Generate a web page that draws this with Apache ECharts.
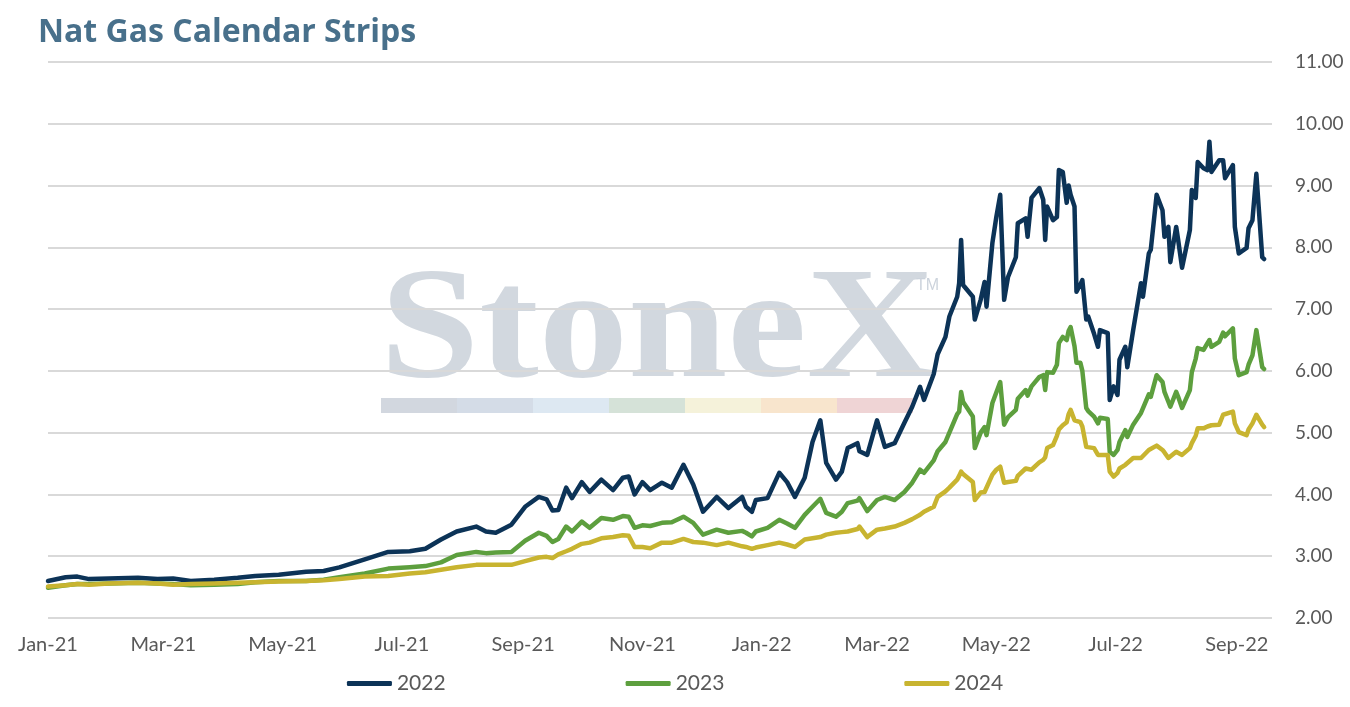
<!DOCTYPE html>
<html>
<head>
<meta charset="utf-8">
<script src="https://cdn.jsdelivr.net/npm/echarts@6/dist/echarts.min.js"></script>
<style>
  html, body { margin: 0; padding: 0; background: #fff; }
  #main { width: 1350px; height: 707px; }
</style>
</head>
<body>
<div id="main"></div>
<script>
// sampled settle dates
var dates = [
  '2021-01-01','2021-01-10','2021-01-16','2021-01-22','2021-02-01','2021-02-16','2021-02-26','2021-03-06','2021-03-15','2021-03-27',
  '2021-04-08','2021-04-17','2021-04-29','2021-05-13','2021-05-22','2021-05-30','2021-06-12','2021-06-24','2021-07-05','2021-07-13',
  '2021-07-21','2021-07-29','2021-08-08','2021-08-13','2021-08-18','2021-08-26','2021-09-02','2021-09-09','2021-09-13','2021-09-16',
  '2021-09-19','2021-09-23','2021-09-26','2021-10-01','2021-10-05','2021-10-11','2021-10-17','2021-10-22','2021-10-25','2021-10-28',
  '2021-11-01','2021-11-05','2021-11-11','2021-11-16','2021-11-22','2021-11-27','2021-12-02','2021-12-09','2021-12-15','2021-12-22',
  '2021-12-24','2021-12-27','2021-12-29','2022-01-04','2022-01-10','2022-01-14','2022-01-18','2022-01-23','2022-01-27','2022-01-31',
  '2022-02-03','2022-02-08','2022-02-11','2022-02-14','2022-02-19','2022-02-20','2022-02-24','2022-03-01','2022-03-05','2022-03-10',
  '2022-03-15','2022-03-19','2022-03-23','2022-03-25','2022-03-30','2022-04-01','2022-04-05','2022-04-07','2022-04-11','2022-04-12',
  '2022-04-13','2022-04-14','2022-04-19','2022-04-20','2022-04-23','2022-04-25','2022-04-26','2022-04-29','2022-05-01','2022-05-03',
  '2022-05-05','2022-05-07','2022-05-11','2022-05-12','2022-05-16','2022-05-17','2022-05-19','2022-05-23','2022-05-25','2022-05-26',
  '2022-05-27','2022-05-30','2022-06-01','2022-06-02','2022-06-04','2022-06-06','2022-06-07','2022-06-08','2022-06-10','2022-06-11',
  '2022-06-13','2022-06-14','2022-06-16','2022-06-17','2022-06-20','2022-06-22','2022-06-23','2022-06-27','2022-06-28','2022-06-30',
  '2022-07-02','2022-07-03','2022-07-06','2022-07-07','2022-07-10','2022-07-14','2022-07-15','2022-07-18','2022-07-19','2022-07-22',
  '2022-07-25','2022-07-26','2022-07-28','2022-07-29','2022-08-01','2022-08-02','2022-08-04','2022-08-08','2022-08-09','2022-08-11',
  '2022-08-12','2022-08-15','2022-08-17','2022-08-18','2022-08-19','2022-08-23','2022-08-25','2022-08-26','2022-08-30','2022-08-31',
  '2022-09-02','2022-09-06','2022-09-07','2022-09-09','2022-09-11','2022-09-14','2022-09-15'
];

var strip2022 = [
  2.60,2.66,2.67,2.63,2.64,2.65,2.63,2.64,2.60,2.62,
  2.65,2.68,2.70,2.75,2.76,2.82,2.95,3.07,3.08,3.12,
  3.27,3.40,3.48,3.40,3.38,3.51,3.80,3.96,3.92,3.74,
  3.75,4.11,3.94,4.20,4.04,4.24,4.07,4.27,4.29,4.00,
  4.20,4.07,4.19,4.11,4.48,4.16,3.72,3.96,3.78,3.96,
  3.80,3.72,3.91,3.94,4.35,4.20,3.96,4.27,4.85,5.20,
  4.51,4.24,4.37,4.75,4.83,4.70,4.64,5.20,4.77,4.83,
  5.16,5.42,5.74,5.53,5.95,6.27,6.55,6.88,7.20,7.42,
  8.12,7.39,7.20,6.83,7.15,7.44,7.04,8.07,8.49,8.85,
  7.15,7.52,7.84,8.39,8.47,8.17,8.80,8.96,8.77,8.12,
  8.66,8.44,8.49,9.25,9.22,8.72,9.00,8.85,8.66,7.28,
  7.40,7.47,6.83,6.88,6.60,6.39,6.66,6.61,5.53,5.75,
  5.61,6.18,6.39,6.06,6.66,7.42,7.20,7.90,7.96,8.85,
  8.60,8.17,8.33,7.76,8.33,8.12,7.67,8.28,8.93,8.80,
  9.38,9.28,9.25,9.71,9.22,9.41,9.41,9.12,9.33,8.33,
  7.90,7.99,8.31,8.44,9.19,7.84,7.81
];

var strip2023 = [
  2.49,2.53,2.55,2.55,2.56,2.57,2.56,2.55,2.53,2.54,
  2.55,2.58,2.60,2.60,2.62,2.66,2.72,2.80,2.82,2.84,
  2.90,3.02,3.07,3.05,3.06,3.07,3.25,3.38,3.33,3.23,
  3.28,3.48,3.40,3.56,3.46,3.62,3.59,3.65,3.64,3.46,
  3.50,3.49,3.54,3.55,3.64,3.54,3.35,3.43,3.38,3.41,
  3.38,3.32,3.40,3.46,3.59,3.53,3.46,3.67,3.80,3.93,
  3.70,3.64,3.72,3.86,3.90,3.94,3.73,3.91,3.96,3.91,
  4.04,4.19,4.40,4.35,4.55,4.70,4.85,5.00,5.30,5.34,
  5.66,5.50,5.26,4.75,5.00,5.09,4.96,5.48,5.65,5.82,
  5.13,5.25,5.37,5.55,5.69,5.60,5.75,5.90,5.93,5.69,
  5.98,5.97,6.10,6.45,6.55,6.50,6.65,6.71,6.40,6.13,
  6.13,6.00,5.40,5.35,5.26,5.15,5.24,5.22,4.69,4.64,
  4.72,4.85,5.04,4.93,5.13,5.32,5.35,5.62,5.58,5.93,
  5.82,5.66,5.50,5.42,5.66,5.58,5.40,5.69,5.98,6.20,
  6.37,6.34,6.45,6.50,6.39,6.47,6.62,6.56,6.69,6.20,
  5.93,5.98,6.10,6.25,6.66,6.06,6.03
];

var strip2024 = [
  2.51,2.53,2.55,2.54,2.56,2.57,2.56,2.54,2.55,2.56,
  2.57,2.58,2.59,2.60,2.61,2.63,2.67,2.68,2.72,2.74,
  2.78,2.82,2.86,2.86,2.86,2.86,2.92,2.98,2.99,2.97,
  3.03,3.08,3.12,3.20,3.22,3.29,3.31,3.34,3.33,3.15,
  3.15,3.13,3.22,3.22,3.28,3.23,3.22,3.18,3.22,3.16,
  3.15,3.12,3.14,3.18,3.22,3.19,3.15,3.27,3.29,3.31,
  3.35,3.38,3.39,3.40,3.44,3.48,3.31,3.43,3.45,3.48,
  3.54,3.60,3.67,3.72,3.80,3.96,4.05,4.11,4.24,4.30,
  4.37,4.33,4.20,3.91,4.03,4.04,4.04,4.32,4.40,4.45,
  4.19,4.20,4.22,4.30,4.42,4.40,4.40,4.52,4.56,4.60,
  4.75,4.80,4.95,5.05,5.12,5.17,5.30,5.37,5.20,5.17,
  5.17,5.10,4.77,4.76,4.75,4.64,4.64,4.64,4.37,4.29,
  4.35,4.42,4.48,4.50,4.59,4.59,4.62,4.72,4.69,4.79,
  4.72,4.68,4.59,4.59,4.69,4.67,4.64,4.75,4.83,4.95,
  5.07,5.07,5.10,5.13,5.12,5.13,5.29,5.30,5.34,5.15,
  5.01,4.96,5.05,5.15,5.29,5.13,5.09
];

var seriesNames = ['2022', '2023', '2024'];
var seriesColors = ['#0c3357', '#5d9f3e', '#c8b430'];
var monthNames = ['Jan','Feb','Mar','Apr','May','Jun','Jul','Aug','Sep','Oct','Nov','Dec'];

// one category per calendar day
var days = [];
for (var t = Date.UTC(2021, 0, 1); t <= Date.UTC(2022, 8, 19); t += 86400000) {
  days.push(new Date(t).toISOString().slice(0, 10));
}

function pairs(vals) {
  return dates.map(function (d, i) { return [d, vals[i]]; });
}

var myChart = echarts.init(document.getElementById('main'));

// watermark colour band
var bandColors = ['#d2d7df', '#d4dce7', '#dde8f2', '#d5e2d8', '#f5f2da', '#f8e5cd', '#efd4d5'];
var band = bandColors.map(function (c, i) {
  return { type: 'rect', z: -10, shape: { x: 381 + i * 76, y: 398, width: 76, height: 15 }, style: { fill: c } };
});

var option = {
  backgroundColor: '#ffffff',
  animation: false,
  title: {
    text: 'Nat Gas Calendar Strips',
    left: 33,
    top: 12,
    textStyle: { fontFamily: 'Open Sans', fontWeight: 'bold', fontSize: 32, color: '#48708b' }
  },
  graphic: [
    {
      type: 'text', z: -10, left: 380, top: 256,
      style: { text: 'StoneX', font: 'bold 158px "Liberation Serif"', fill: '#d2d8df' },
      scaleX: 1.13
    },
    {
      type: 'text', z: -10, left: 916, top: 278,
      style: { text: 'TM', font: '16px "Liberation Sans"', fill: '#ccd3dc' }
    }
  ].concat(band),
  grid: { left: 48, right: 78, top: 62, bottom: 89, outerBoundsMode: 'none' },
  legend: {
    bottom: 8,
    left: 'center',
    itemGap: 180,
    itemWidth: 45,
    itemHeight: 5,
    icon: 'roundRect',
    textStyle: { fontFamily: 'Lato', fontSize: 21, color: '#595959' },
    data: seriesNames
  },
  xAxis: {
    type: 'category',
    data: days,
    boundaryGap: false,
    axisLine: { show: false },
    axisTick: { show: false },
    splitLine: { show: false },
    axisLabel: {
      margin: 17,
      fontFamily: 'Lato',
      fontSize: 20,
      color: '#595959',
      interval: function (index, value) {
        var m = parseInt(value.slice(5, 7), 10);
        return value.slice(8) === '01' && m % 2 === 1;
      },
      formatter: function (value) {
        var m = parseInt(value.slice(5, 7), 10);
        return monthNames[m - 1] + '-' + value.slice(2, 4);
      }
    }
  },
  yAxis: {
    type: 'value',
    position: 'right',
    offset: 11,
    min: 2,
    max: 11,
    interval: 1,
    axisLine: { show: false },
    axisTick: { show: false },
    splitLine: { lineStyle: { color: '#d9d9d9', width: 2 } },
    axisLabel: {
      margin: 12,
      align: 'left',
      fontFamily: 'Lato',
      fontSize: 19,
      color: '#595959',
      formatter: function (v) { return v.toFixed(2); }
    }
  },
  series: [strip2022, strip2023, strip2024].map(function (vals, i) {
    return {
      name: seriesNames[i],
      type: 'line',
      data: pairs(vals),
      showSymbol: false,
      symbol: 'none',
      itemStyle: { color: seriesColors[i] },
      lineStyle: { color: seriesColors[i], width: 4.5, cap: 'round', join: 'round' }
    };
  })
};

myChart.setOption(option);
</script>
</body>
</html>
